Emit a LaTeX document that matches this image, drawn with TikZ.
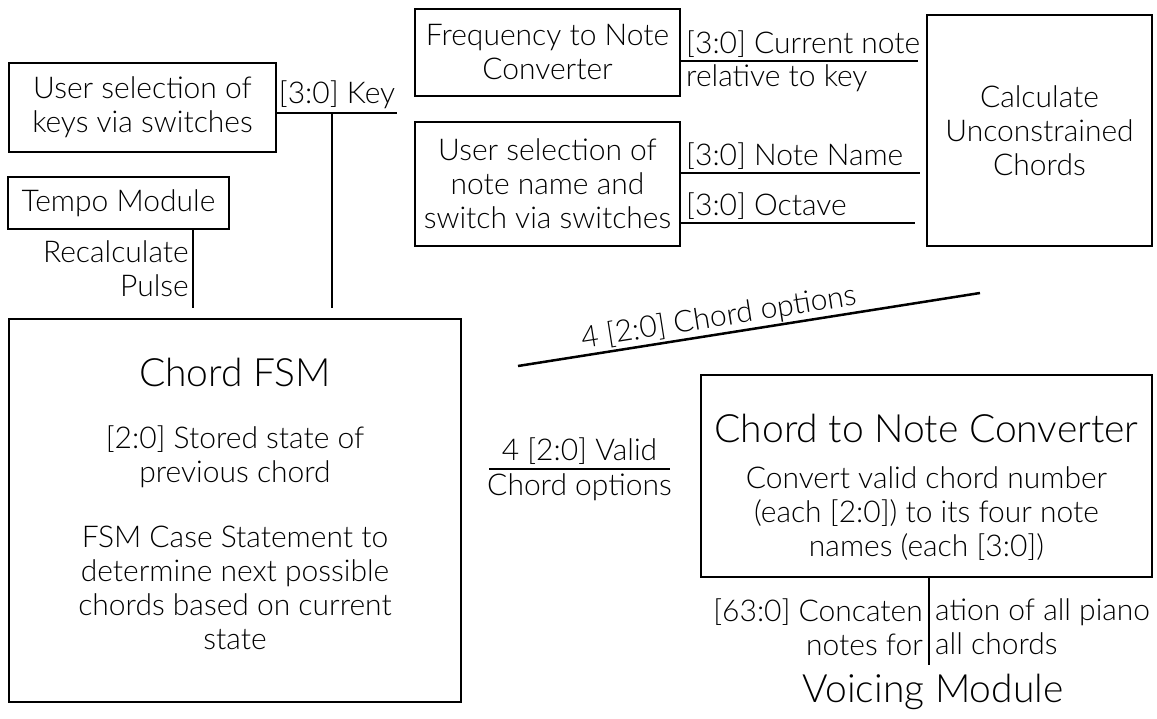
\documentclass[tikz,border=0pt]{standalone}
\usepackage{fontspec}
\setmainfont{Lato Light}
\usetikzlibrary{positioning}
\tikzset{
  block/.style={draw, line width=2pt, inner sep=0pt, align=center,
    font=\fontsize{30}{34}\selectfont},
  wire/.style={line width=2.5pt},
  lbl/.style={font=\fontsize{30}{34}\selectfont, inner sep=3pt},
  title/.style={font=\fontsize{39}{44}\selectfont, inner sep=0pt},
}
\begin{document}
\begin{tikzpicture}
    [x=1pt,y=-1pt]
    \useasboundingbox (0,0) rectangle (1157,719);
    %boxes
    \node[block, minimum width=267pt, minimum height=89pt] (keys) at (142.5,107.5)
      {User selection of\\keys via switches};
    \node[block, minimum width=221pt, minimum height=52pt] (tempo) at (118.5,203)
      {Tempo Module};
    \node[block, minimum width=452pt, minimum height=383pt] (fsm) at (235,510.5) {};
    \node[block, minimum width=265pt, minimum height=87pt] (freq) at (547.5,52.5)
      {Frequency to Note\\Converter};
    \node[block, minimum width=265pt, minimum height=124pt] (notesel) at (547.5,184)
      {User selection of\\note name and\\switch via switches};
    \node[block, minimum width=225pt, minimum height=231pt] (calc) at (1039.5,130.5)
      {Calculate\\Unconstrained\\Chords};
    \node[block, minimum width=451pt, minimum height=202pt] (conv) at (926.5,476) {};
    %text inside the big boxes
    \node[title] (fsmtitle) at (235,372) {Chord FSM};
    \node[lbl, align=center] (fsmstate) at (235,457)
      {[2:0] Stored state of\\previous chord};
    \node[lbl, align=center] (fsmcase) at (235,588)
      {FSM Case Statement to\\determine next possible\\chords based on current\\state};
    \node[title] (convtitle) at (926.5,428) {Chord to Note Converter};
    \node[lbl, align=center] (convtext) at (926.5,514)
      {Convert valid chord number\\(each [2:0]) to its four note\\names (each [3:0])};
    \node[title] (voicing) at (933,692) {Voicing Module};
    %free ends
    \coordinate (keyend) at (397,113);
    \coordinate (keytap) at (332,113);
    \coordinate (keydown) at (332,308);
    \coordinate (pulseend) at (193,308);
    \coordinate (curend) at (918,61);
    \coordinate (nameend) at (920,173);
    \coordinate (octend) at (915,223);
    \coordinate (optstart) at (518,366);
    \coordinate (optend) at (980,293);
    \coordinate (validstart) at (489,469);
    \coordinate (validend) at (670,469);
    \coordinate (outend) at (929,665);
    %connectors
    \draw[wire] (keys.east |- keyend) -- node[lbl, above]{[3:0] Key} (keyend);
    \draw[wire] (keytap) -- (keydown);
    \draw[wire] (tempo.south -| pulseend) -- node[lbl, left, align=right]{Recalculate\\Pulse} (pulseend);
    \draw[wire] (freq.east |- curend) -- (curend);
    \node[lbl, anchor=south west] (curlbl) at (683,61) {[3:0] Current note};
    \node[lbl, anchor=north west] (rellbl) at (683,61) {relative to key};
    \draw[wire] (notesel.east |- nameend) -- (nameend);
    \node[lbl, anchor=south west] (namelbl) at (683,173) {[3:0] Note Name};
    \draw[wire] (notesel.east |- octend) -- (octend);
    \node[lbl, anchor=south west] (octlbl) at (683,223) {[3:0] Octave};
    \draw[wire] (optstart) -- node[lbl, inner sep=1pt, above, sloped, pos=0.44]{4 [2:0] Chord options} (optend);
    \draw[wire] (validstart) -- node[lbl, above]{4 [2:0] Valid}
      node[lbl, below]{Chord options} (validend);
    \draw[line width=1.5pt] (conv.south -| outend) -- (outend);
    \node[lbl, anchor=east, align=right] (outleft) at (926,627) {[63:0] Concaten\\notes for};
    \node[lbl, anchor=west, align=left] (outright) at (932,627) {ation of all piano\\all chords};
\end{tikzpicture}
\end{document}
